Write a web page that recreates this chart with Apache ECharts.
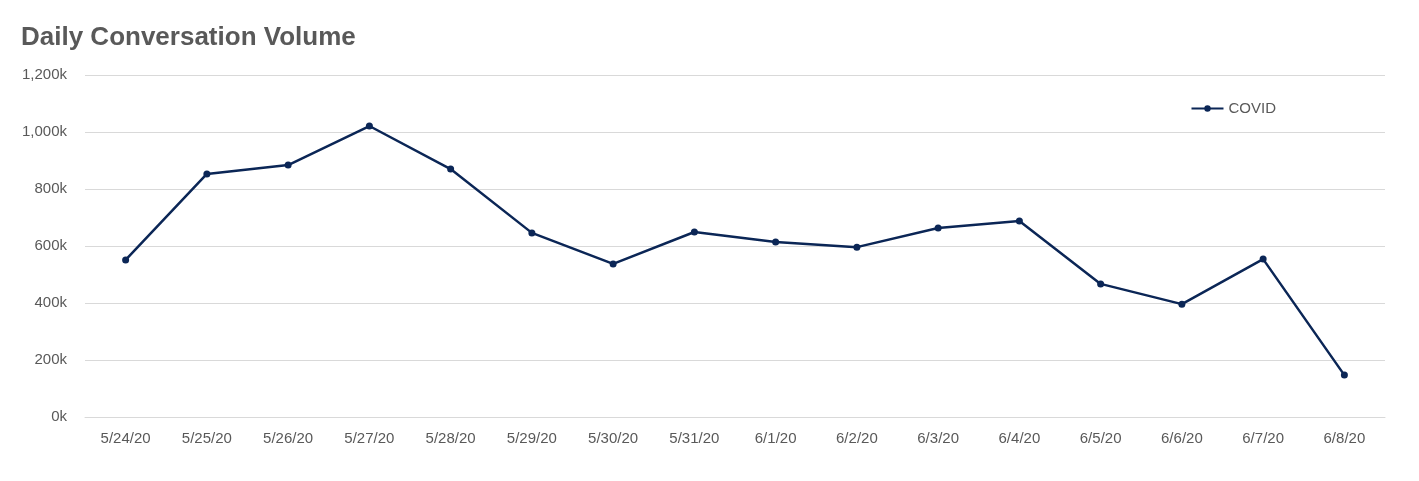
<!DOCTYPE html>
<html><head><meta charset="utf-8">
<script src="https://cdn.jsdelivr.net/npm/echarts@6/dist/echarts.min.js"></script>
<style>html,body{margin:0;padding:0;background:#fff}#c{width:1419px;height:481px}</style>
</head><body><div id="c"></div>
<script>
const categories=['5/24/20','5/25/20','5/26/20','5/27/20','5/28/20','5/29/20','5/30/20','5/31/20','6/1/20','6/2/20','6/3/20','6/4/20','6/5/20','6/6/20','6/7/20','6/8/20'];
const covid=[551,853,884,1021,870,646,537,649,614,596,663,688,467,396,554,147];
const chart=echarts.init(document.getElementById('c'));
chart.setOption({
  animation:false,
  title:{text:'Daily Conversation Volume',left:16,top:20,textStyle:{fontFamily:'Liberation Sans',fontWeight:'bold',fontSize:26,color:'#595959'}},
  legend:{data:['COVID'],right:138,top:96,itemWidth:32,itemHeight:8,textStyle:{fontFamily:'Liberation Sans',fontSize:15,color:'#595959'}},
  grid:{left:85,right:34,top:75,bottom:64},
  xAxis:{type:'category',data:categories,boundaryGap:true,axisTick:{show:false},axisLine:{lineStyle:{color:'#d9d9d9'}},axisLabel:{fontFamily:'Liberation Sans',fontSize:15,color:'#595959',margin:14}},
  yAxis:{type:'value',min:0,max:1200,interval:200,axisLabel:{formatter:'{value}k',fontFamily:'Liberation Sans',fontSize:15,color:'#595959',margin:18},splitLine:{lineStyle:{color:'#d9d9d9'}}},
  series:[{name:'COVID',type:'line',data:covid,symbol:'circle',symbolSize:7,lineStyle:{color:'#0b2656',width:2.5},itemStyle:{color:'#0b2656'}}]
});
</script></body></html>
